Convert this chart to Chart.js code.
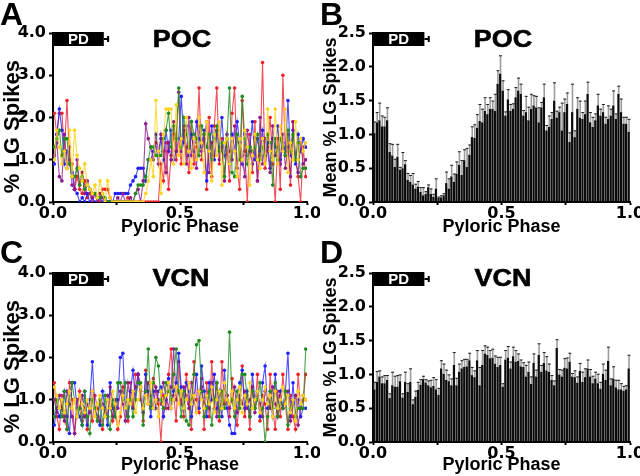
<!DOCTYPE html>
<html>
<head>
<meta charset="utf-8">
<script src="https://cdn.jsdelivr.net/npm/chart.js@4.4.1/dist/chart.umd.min.js"></script>
<style>
  body { margin: 0; background: #fff; }
  #fig { position: relative; width: 640px; height: 476px; overflow: hidden; font-family: "Liberation Sans", Arial, sans-serif; }
  .pane { position: absolute; width: 320px; height: 238px; }
  .lbl { position: absolute; font-weight: bold; font-size: 32px; line-height: 1; color: #000; }
  .ttl { position: absolute; font-weight: bold; font-size: 24px; line-height: 1; color: #000; transform: translateX(-50%) scaleX(1.12); white-space: nowrap; -webkit-text-stroke: 0.6px #000; }
</style>
</head>
<body>
<div id="fig">
  <canvas class="pane" id="cA" width="320" height="238" style="left:0;top:0"></canvas>
  <canvas class="pane" id="cB" width="320" height="238" style="left:320px;top:0"></canvas>
  <canvas class="pane" id="cC" width="320" height="238" style="left:0;top:238px"></canvas>
  <canvas class="pane" id="cD" width="320" height="238" style="left:320px;top:238px"></canvas>
  <div class="lbl" style="left:0;top:-2px">A</div>
  <div class="lbl" style="left:320px;top:-2px">B</div>
  <div class="lbl" style="left:0;top:236px">C</div>
  <div class="lbl" style="left:320px;top:236px">D</div>
  <div class="ttl" style="left:182px;top:27px">POC</div>
  <div class="ttl" style="left:503px;top:27px">POC</div>
  <div class="ttl" style="left:181px;top:266px">VCN</div>
  <div class="ttl" style="left:503px;top:266px">VCN</div>
</div>
<script>
// phase bins (0.01 wide)
const BINS = 100;
const phase = Array.from({ length: BINS }, (_, i) => (i + 0.5) / BINS);
const PD_END = 0.2, PD_SD = 0.017;

// A: POC, individual preps (% LG spikes)
const pocRed = [
  2.1, 1.6, 2.1, 2.1, 1.2, 2.4, 1.0, 0.9, 0.3, 0.6,
  0.3, 0.2, 0.5, 0.1, 0.2, 0.0, 0.2, 0.1, 0.0, 0.3,
  0.3, 0.3, 0.1, 0.0, 0.0, 0.0, 0.0, 0.0, 0.0, 0.1,
  0.0, 0.0, 0.0, 0.0, 0.0, 0.0, 0.0, 0.0, 0.0, 0.0,
  0.0, 0.0, 0.9, 0.5, 1.4, 0.3, 1.1, 1.6, 1.0, 1.5,
  0.9, 1.8, 1.3, 0.7, 1.9, 0.9, 1.3, 2.7, 1.0, 1.6,
  0.3, 2.0, 0.6, 1.8, 2.7, 0.9, 1.5, 0.6, 1.3, 0.5,
  2.1, 2.7, 0.8, 0.3, 2.4, 1.2, 0.0, 1.6, 0.7, 1.9,
  0.5, 1.1, 3.3, 0.8, 1.3, 2.0, 0.9, 0.0, 1.5, 0.3,
  3.0, 1.1, 1.6, 0.4, 1.9, 1.0, 0.6, 0.0, 1.3, 0.6];
const pocYellow = [
  1.0, 1.7, 1.3, 0.9, 1.2, 0.8, 1.7, 0.6, 1.7, 1.1,
  0.8, 0.5, 0.9, 0.4, 0.3, 0.2, 0.4, 0.1, 0.5, 0.2,
  0.0, 0.5, 0.1, 0.0, 0.0, 0.0, 0.0, 0.0, 0.0, 0.0,
  0.0, 0.0, 0.0, 0.0, 0.0, 0.0, 0.2, 0.5, 1.0, 0.6,
  2.4, 1.2, 0.2, 1.6, 2.2, 2.2, 2.2, 0.9, 2.3, 1.1,
  1.5, 0.9, 2.0, 1.2, 0.8, 1.5, 1.0, 2.0, 1.4, 0.7,
  1.9, 1.2, 0.5, 1.6, 1.1, 1.9, 0.4, 1.4, 1.5, 0.9,
  1.5, 1.2, 0.6, 1.5, 1.0, 1.7, 1.3, 0.4, 1.1, 1.6,
  1.0, 0.8, 1.5, 0.9, 2.2, 1.2, 1.0, 2.2, 0.9, 1.8,
  1.2, 2.2, 0.7, 1.4, 1.0, 1.9, 1.0, 1.5, 1.2, 1.4];
const pocGreen = [
  1.3, 1.5, 1.7, 1.1, 1.5, 1.5, 0.9, 0.6, 0.6, 0.8,
  0.4, 0.6, 0.3, 0.4, 0.3, 0.2, 0.2, 0.1, 0.1, 0.2,
  0.1, 0.0, 0.0, 0.0, 0.0, 0.0, 0.0, 0.0, 0.0, 0.0,
  0.0, 0.0, 0.2, 0.4, 0.4, 0.4, 0.6, 1.0, 1.3, 1.3,
  1.1, 1.1, 1.1, 1.5, 1.7, 2.1, 1.3, 1.8, 1.5, 2.7,
  1.3, 2.0, 1.6, 1.3, 1.9, 1.6, 1.5, 1.1, 1.8, 1.6,
  1.3, 1.6, 1.0, 1.5, 1.8, 1.2, 1.4, 0.6, 1.5, 2.7,
  0.7, 0.6, 1.6, 1.0, 2.5, 1.5, 0.9, 1.3, 1.2, 1.3,
  1.6, 1.0, 1.3, 1.1, 1.6, 1.4, 0.4, 1.5, 1.0, 1.5,
  1.3, 1.1, 1.7, 1.2, 1.6, 1.0, 1.4, 0.6, 0.8, 0.8];
const pocBlue = [
  0.9, 1.6, 2.2, 1.7, 0.9, 1.2, 0.9, 0.7, 0.3, 0.2,
  0.0, 0.1, 0.0, 0.2, 0.0, 0.1, 0.0, 0.0, 0.1, 0.0,
  0.0, 0.0, 0.0, 0.0, 0.2, 0.2, 0.2, 0.2, 0.2, 0.2,
  0.4, 0.5, 0.6, 0.8, 0.8, 0.8, 0.5, 1.0, 1.0, 1.2,
  1.6, 1.2, 1.5, 1.0, 1.7, 1.2, 1.7, 1.0, 1.2, 1.5,
  2.5, 1.4, 1.8, 1.1, 1.6, 1.2, 1.9, 1.5, 1.3, 1.7,
  0.5, 1.2, 1.8, 1.0, 1.6, 1.3, 2.0, 1.1, 1.5, 0.9,
  1.6, 1.2, 1.9, 1.4, 0.9, 1.6, 1.1, 1.3, 1.9, 1.0,
  1.5, 1.2, 1.7, 1.1, 1.4, 0.8, 1.5, 1.3, 1.8, 1.0,
  1.4, 1.2, 2.4, 1.1, 1.7, 0.9, 1.6, 1.2, 1.5, 1.3];
const pocPurple = [
  1.1, 1.4, 0.6, 0.5, 1.6, 0.8, 1.3, 0.4, 0.3, 1.0,
  0.4, 0.7, 0.2, 0.5, 0.3, 0.1, 0.2, 0.0, 0.2, 0.1,
  0.0, 0.0, 0.0, 0.0, 0.0, 0.1, 0.0, 0.2, 0.0, 0.0,
  0.1, 0.0, 0.2, 0.3, 0.0, 0.5, 1.85, 1.5, 1.3, 1.0,
  1.4, 0.9, 1.6, 1.2, 0.7, 1.4, 1.0, 1.9, 1.2, 2.6,
  1.2, 1.7, 0.9, 2.0, 1.1, 1.4, 0.8, 1.8, 1.2, 1.5,
  1.9, 0.7, 1.4, 1.1, 1.7, 1.0, 1.3, 0.5, 1.6, 1.2,
  1.0, 1.8, 0.8, 1.4, 1.1, 0.6, 1.7, 1.2, 0.9, 1.5,
  0.5, 2.0, 0.9, 1.5, 1.2, 0.7, 1.8, 1.1, 1.3, 0.9,
  1.6, 0.8, 1.3, 0.6, 1.9, 1.0, 0.7, 1.4, 0.9, 1.0];

// C: VCN, individual preps
const vcnRed = [
  1.4, 0.6, 0.3, 1.1, 0.6, 0.3, 1.4, 1.0, 0.2, 0.8,
  1.2, 0.5, 0.8, 0.3, 0.8, 0.5, 1.1, 0.8, 0.5, 0.3,
  0.8, 0.6, 1.3, 0.5, 0.8, 0.3, 0.6, 1.3, 0.8, 0.5,
  1.4, 0.8, 1.6, 1.6, 1.2, 0.5, 1.7, 0.9, 0.8, 1.5,
  1.2, 0.9, 0.0, 1.1, 0.8, 1.6, 2.2, 1.1, 0.5, 1.9,
  1.0, 0.6, 1.6, 0.9, 0.3, 1.9, 1.0, 0.7, 1.5, 0.3,
  1.4, 0.6, 1.9, 0.8, 1.4, 0.5, 1.9, 0.9, 1.1, 0.6,
  1.5, 0.8, 0.4, 1.0, 1.8, 0.6, 1.1, 0.3, 1.3, 0.8,
  1.6, 0.5, 1.1, 0.9, 0.3, 1.6, 0.8, 0.3, 1.2, 0.6,
  1.6, 0.9, 0.3, 1.1, 0.6, 0.3, 1.6, 0.8, 1.0, 1.6];
const vcnYellow = [
  1.3, 1.1, 0.8, 1.0, 0.7, 0.9, 1.2, 0.8, 1.0, 0.6,
  1.1, 0.9, 0.7, 1.0, 0.8, 1.2, 0.6, 0.9, 1.1, 0.8,
  0.6, 1.0, 0.8, 1.2, 0.9, 0.4, 0.7, 1.1, 0.8, 1.0,
  0.9, 1.2, 0.7, 1.0, 1.3, 0.8, 1.1, 0.9, 1.4, 0.8,
  1.0, 0.6, 1.2, 0.9, 1.1, 1.4, 0.8, 1.0, 1.3, 0.9,
  1.2, 0.8, 1.0, 1.4, 0.9, 1.1, 0.7, 1.2, 1.0, 0.8,
  1.1, 0.9, 1.3, 0.7, 1.0, 1.2, 0.8, 1.4, 1.0, 0.9,
  1.2, 0.8, 1.0, 1.3, 0.7, 1.1, 0.9, 1.4, 0.8, 1.0,
  1.2, 0.7, 1.0, 1.3, 0.9, 1.1, 0.6, 1.2, 0.8, 1.0,
  1.3, 0.9, 1.1, 0.7, 1.0, 0.5, 1.2, 0.9, 1.1, 1.0];
const vcnGreen = [
  0.6, 1.0, 0.8, 0.6, 1.2, 0.3, 1.1, 1.4, 1.0, 0.6,
  0.8, 0.4, 1.2, 0.6, 0.2, 1.0, 0.8, 0.5, 1.0, 0.4,
  1.1, 0.6, 0.3, 1.0, 0.6, 1.4, 1.4, 1.0, 1.4, 0.6,
  1.0, 0.6, 1.0, 1.4, 1.4, 0.4, 1.2, 2.2, 0.8, 1.4,
  2.0, 1.8, 1.0, 0.8, 1.4, 1.2, 1.0, 1.6, 2.2, 1.2,
  0.6, 1.2, 0.5, 0.4, 1.0, 1.6, 2.3, 2.4, 1.2, 0.6,
  0.8, 1.2, 0.4, 1.0, 1.4, 0.6, 1.2, 0.8, 1.0, 2.6,
  1.0, 0.6, 1.2, 0.8, 1.6, 1.6, 1.0, 0.6, 1.2, 0.8,
  1.0, 1.4, 0.8, 0.0, 0.6, 1.2, 0.8, 1.4, 0.6, 1.0,
  0.8, 1.2, 0.4, 0.8, 1.0, 0.6, 0.8, 0.8, 0.8, 2.2];
const vcnBlue = [
  0.4, 0.8, 0.6, 0.8, 1.2, 0.6, 0.2, 1.4, 1.4, 0.8,
  0.6, 0.4, 1.2, 0.4, 1.0, 1.9, 0.8, 0.6, 0.4, 1.2,
  0.8, 0.4, 1.4, 0.8, 0.6, 1.0, 2.0, 2.1, 0.8, 0.6,
  1.2, 1.7, 1.0, 1.6, 1.3, 0.8, 1.6, 1.2, 0.6, 1.2,
  0.8, 1.2, 1.3, 0.6, 1.0, 1.5, 0.8, 1.2, 1.4, 2.1,
  1.3, 0.8, 1.4, 1.2, 0.6, 1.0, 1.6, 0.8, 1.8, 1.2,
  0.6, 1.4, 1.0, 1.6, 0.8, 1.2, 0.6, 1.7, 0.8, 0.4,
  0.2, 0.2, 1.0, 1.4, 1.7, 0.8, 1.2, 0.6, 1.6, 1.0,
  1.2, 0.6, 1.4, 1.8, 0.8, 1.0, 0.6, 1.6, 0.8, 1.2,
  0.8, 1.2, 2.1, 0.6, 1.4, 0.6, 1.0, 0.6, 0.8, 0.8];
const vcnPurple = [
  1.0, 0.7, 1.1, 0.8, 0.5, 1.2, 0.9, 0.6, 0.2, 1.0,
  0.8, 1.1, 0.6, 0.9, 0.7, 1.2, 0.8, 0.5, 1.0, 0.9,
  0.7, 1.1, 0.8, 0.6, 1.0, 0.8, 1.2, 0.9, 0.5, 1.4,
  1.0, 0.8, 1.3, 1.6, 1.0, 0.7, 1.2, 1.4, 1.1, 0.8,
  1.3, 1.0, 0.9, 1.4, 1.1, 0.8, 1.3, 2.2, 1.0, 1.2,
  0.9, 1.3, 1.1, 0.8, 1.4, 1.0, 0.7, 1.2, 1.3, 0.9,
  1.1, 0.8, 1.4, 1.0, 0.6, 1.2, 0.9, 1.3, 1.1, 0.8,
  1.0, 1.3, 0.7, 1.1, 0.9, 1.2, 0.8, 1.0, 1.3, 0.7,
  1.1, 0.9, 0.6, 1.2, 1.0, 0.8, 1.3, 0.9, 0.6, 1.1,
  0.8, 1.0, 1.2, 0.5, 0.9, 1.1, 0.4, 0.8, 1.1, 1.0];

// B: POC mean and SEM
const pocMean = [
  1.02, 1.18, 1.21, 1.12, 1.12, 1.21, 0.74, 0.69, 0.52, 0.67,
  0.48, 0.50, 0.56, 0.33, 0.30, 0.26, 0.20, 0.23, 0.15, 0.10,
  0.12, 0.22, 0.12, 0.08, 0.20, 0.06, 0.07, 0.10, 0.28, 0.20,
  0.38, 0.30, 0.42, 0.55, 0.40, 0.62, 0.52, 0.70, 0.96, 0.95,
  1.10, 1.20, 1.18, 1.35, 1.30, 1.38, 1.38, 1.35, 1.75, 1.90,
  1.65, 1.28, 1.52, 1.35, 1.38, 1.55, 1.65, 1.60, 1.28, 1.33,
  1.21, 1.38, 1.43, 1.40, 1.18, 1.40, 1.55, 1.06, 1.11, 1.23,
  1.50, 1.25, 1.33, 1.06, 1.33, 1.45, 0.89, 1.33, 0.96, 1.38,
  1.25, 1.23, 1.30, 1.60, 1.18, 1.11, 1.21, 1.43, 1.28, 1.33,
  1.16, 1.23, 1.28, 1.43, 1.23, 1.60, 1.33, 1.16, 1.16, 1.04];
const pocSem = [
  0.17, 0.15, 0.26, 0.16, 0.14, 0.19, 0.13, 0.17, 0.12, 0.19,
  0.04, 0.24, 0.06, 0.10, 0.10, 0.17, 0.07, 0.08, 0.07, 0.12,
  0.04, 0.04, 0.08, 0.04, 0.15, 0.02, 0.03, 0.03, 0.17, 0.15,
  0.17, 0.12, 0.18, 0.20, 0.22, 0.16, 0.28, 0.15, 0.16, 0.20,
  0.20, 0.25, 0.20, 0.20, 0.15, 0.17, 0.12, 0.25, 0.20, 0.27,
  0.15, 0.06, 0.15, 0.10, 0.08, 0.15, 0.19, 0.15, 0.08, 0.24,
  0.20, 0.22, 0.15, 0.17, 0.22, 0.08, 0.20, 0.08, 0.17, 0.10,
  0.27, 0.10, 0.08, 0.41, 0.20, 0.17, 0.14, 0.42, 0.10, 0.17,
  0.25, 0.10, 0.20, 0.18, 0.15, 0.15, 0.10, 0.17, 0.10, 0.12,
  0.10, 0.20, 0.10, 0.22, 0.08, 0.12, 0.20, 0.10, 0.10, 0.19];

// D: VCN mean and SEM
const vcnMean = [
  0.78, 0.89, 0.97, 0.87, 0.87, 0.92, 0.65, 0.84, 0.82, 0.82,
  0.90, 0.66, 0.89, 0.74, 0.89, 0.56, 0.67, 0.77, 0.85, 0.93,
  0.88, 0.84, 0.81, 0.83, 0.78, 0.70, 1.09, 1.01, 0.92, 0.90,
  0.84, 1.14, 0.84, 1.04, 1.09, 1.11, 1.12, 1.21, 0.99, 0.96,
  1.21, 0.84, 1.14, 1.31, 1.29, 1.24, 1.25, 1.16, 1.11, 1.14,
  0.82, 1.22, 1.25, 1.09, 1.27, 1.19, 1.20, 1.12, 1.11, 0.97,
  1.04, 0.86, 1.17, 0.97, 1.29, 1.04, 1.17, 1.06, 1.04, 0.92,
  0.84, 1.39, 1.00, 0.97, 1.10, 1.09, 1.19, 0.97, 0.96, 0.88,
  1.05, 0.89, 0.96, 1.09, 0.97, 0.87, 0.94, 0.87, 0.79, 1.01,
  0.92, 1.20, 0.84, 0.94, 0.81, 0.78, 0.78, 0.76, 0.78, 1.09];
const vcnSem = [
  0.11, 0.16, 0.09, 0.10, 0.12, 0.07, 0.07, 0.20, 0.16, 0.17,
  0.10, 0.06, 0.15, 0.13, 0.20, 0.07, 0.09, 0.12, 0.08, 0.05,
  0.05, 0.07, 0.11, 0.13, 0.15, 0.10, 0.12, 0.15, 0.15, 0.10,
  0.10, 0.19, 0.11, 0.12, 0.12, 0.12, 0.11, 0.11, 0.12, 0.10,
  0.15, 0.27, 0.22, 0.12, 0.12, 0.12, 0.13, 0.12, 0.15, 0.12,
  0.05, 0.14, 0.17, 0.10, 0.14, 0.17, 0.11, 0.10, 0.07, 0.17,
  0.15, 0.11, 0.14, 0.10, 0.17, 0.10, 0.16, 0.21, 0.12, 0.07,
  0.07, 0.13, 0.08, 0.10, 0.14, 0.16, 0.13, 0.05, 0.10, 0.09,
  0.12, 0.15, 0.13, 0.13, 0.11, 0.11, 0.10, 0.14, 0.10, 0.15,
  0.15, 0.21, 0.10, 0.18, 0.11, 0.14, 0.09, 0.07, 0.06, 0.20];

const COL = { red: '#f0202a', yellow: '#ffd21a', green: '#1e8c1e', blue: '#2020ff', purple: '#8c1a8c' };
const tickFont = { family: '"DejaVu Sans", sans-serif', weight: 'bold', size: 16 };
const axisFont = (size) => ({ family: '"Liberation Sans", Arial, sans-serif', weight: 'bold', size });

// PD burst bar drawn on the phase axis
const pdBar = {
  id: 'pdBar',
  afterDraw(chart) {
    const { ctx, chartArea: a, scales: { x } } = chart;
    const x0 = x.getPixelForValue(0), x1 = x.getPixelForValue(PD_END), x2 = x.getPixelForValue(PD_END + PD_SD);
    const top = a.top - 1, h = 14, mid = top + h / 2;
    ctx.save();
    ctx.fillStyle = '#000';
    ctx.fillRect(x0, top, x1 - x0, h);
    ctx.strokeStyle = '#000'; ctx.lineWidth = 2;
    ctx.beginPath();
    ctx.moveTo(x1, mid); ctx.lineTo(x2, mid);
    ctx.moveTo(x2, mid - 3); ctx.lineTo(x2, mid + 3);
    ctx.stroke();
    ctx.fillStyle = '#fff';
    ctx.font = 'bold 15px "Liberation Sans", Arial, sans-serif';
    ctx.textAlign = 'center'; ctx.textBaseline = 'middle';
    ctx.fillText('PD', (x0 + x1) / 2, mid + 1);
    ctx.restore();
  }
};

// SEM whiskers on top of the bars
const errBars = {
  id: 'errBars',
  afterDatasetsDraw(chart, args, opts) {
    if (!opts.sem) return;
    const { ctx, scales: { y } } = chart;
    const meta = chart.getDatasetMeta(0);
    const vals = chart.data.datasets[0].data;
    ctx.save();
    meta.data.forEach((bar, i) => {
      const yTop = y.getPixelForValue(vals[i].y + opts.sem[i]);
      ctx.fillStyle = '#9c9c9c';
      ctx.fillRect(bar.x - 0.5, yTop, 1.6, bar.y - yTop);
      ctx.strokeStyle = '#222'; ctx.lineWidth = 1;
      ctx.beginPath(); ctx.moveTo(bar.x - 1.2, yTop + 0.5); ctx.lineTo(bar.x + 1.8, yTop + 0.5); ctx.stroke();
    });
    ctx.restore();
  }
};

function scales(yMax, yStep, yTitle, yTitleSize, xH) {
  return {
    x: {
      type: 'linear', min: 0, max: 1, offset: false,
      ticks: { stepSize: 0.25, autoSkip: false, maxRotation: 0, color: '#000', font: tickFont, padding: -1,
        callback: v => ((v * 4) % 2 === 1 ? '' : v.toFixed(1)) },
      grid: { drawOnChartArea: false, color: '#000', tickLength: 3, tickWidth: 2, offset: false },
      border: { color: '#000', width: 2 },
      title: { display: true, text: 'Pyloric Phase', color: '#000', font: axisFont(18), padding: 0 },
      afterFit: s => { s.height = xH; s.paddingLeft = 0; s.paddingRight = 0; },
    },
    y: {
      min: 0, max: yMax,
      ticks: { stepSize: yStep, color: '#000', font: tickFont, padding: 3, callback: v => v.toFixed(1) },
      grid: { drawOnChartArea: false, color: '#000', tickLength: 4, tickWidth: 2 },
      border: { color: '#000', width: 2 },
      title: { display: true, text: yTitle, color: '#000', font: axisFont(yTitleSize), padding: 0 },
      afterFit: s => { s.width = 53; },
    },
  };
}

const pts = (arr) => arr.map((v, i) => ({ x: phase[i], y: v }));

function linePanel(id, series, top, xH) {
  const ds = series.map(([vals, c]) => ({
    data: pts(vals), borderColor: c + 'cc', backgroundColor: c, borderWidth: 1.1,
    pointRadius: 1.8, pointBorderWidth: 0, pointHoverRadius: 0, tension: 0,
  }));
  new Chart(document.getElementById(id), {
    type: 'line',
    data: { datasets: ds },
    options: {
      responsive: false, animation: false, events: [],
      layout: { padding: { top, right: 13, left: 0, bottom: 0 } },
      plugins: { legend: { display: false }, tooltip: { enabled: false } },
      scales: scales(4, 1, '% LG Spikes   ', 22, xH),
    },
    plugins: [pdBar],
  });
}

function barPanel(id, mean, sem, top, xH) {
  new Chart(document.getElementById(id), {
    type: 'bar',
    data: { datasets: [{ data: pts(mean), backgroundColor: '#0c0c0c', barPercentage: 0.88, categoryPercentage: 1 }] },
    options: {
      responsive: false, animation: false, events: [],
      layout: { padding: { top, right: 10, left: 0, bottom: 0 } },
      plugins: { legend: { display: false }, tooltip: { enabled: false }, errBars: { sem } },
      scales: scales(2.5, 0.5, 'Mean % LG Spikes', 18, xH),
    },
    plugins: [errBars, pdBar],
  });
}

linePanel('cA', [[pocYellow, COL.yellow], [pocGreen, COL.green], [pocPurple, COL.purple], [pocBlue, COL.blue], [pocRed, COL.red]], 33, 36);
barPanel('cB', pocMean, pocSem, 33, 36);
linePanel('cC', [[vcnYellow, COL.yellow], [vcnGreen, COL.green], [vcnPurple, COL.purple], [vcnBlue, COL.blue], [vcnRed, COL.red]], 35, 34);
barPanel('cD', vcnMean, vcnSem, 35, 34);
</script>
</body>
</html>
